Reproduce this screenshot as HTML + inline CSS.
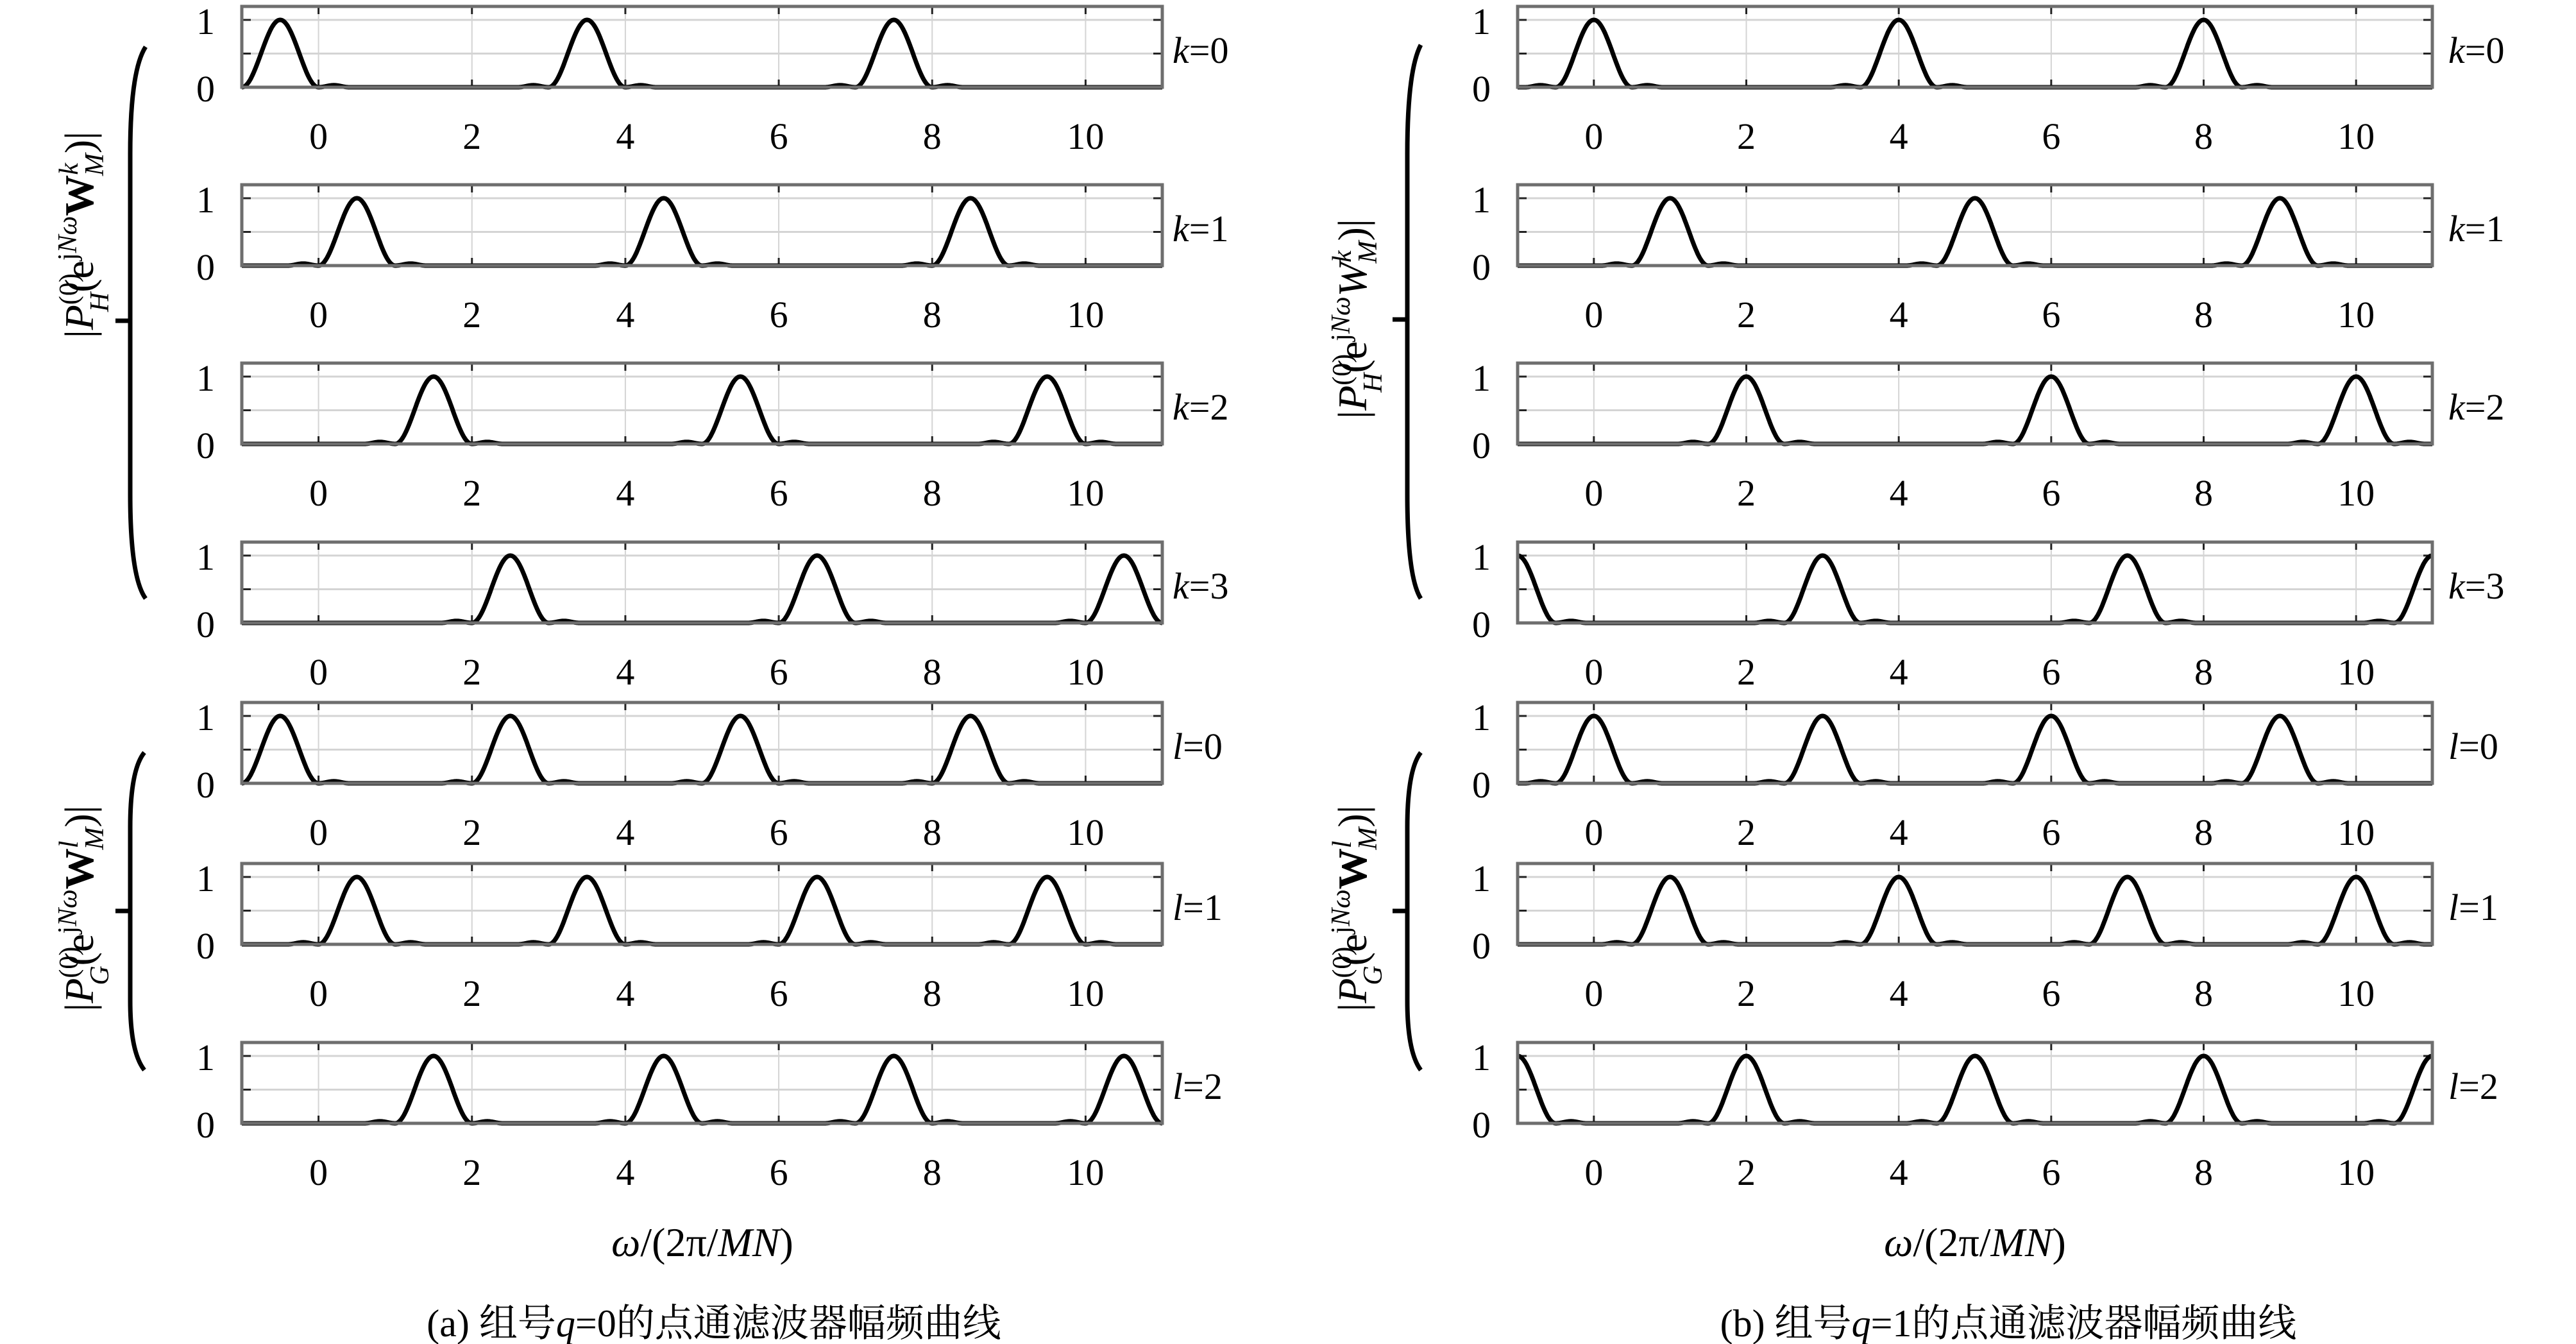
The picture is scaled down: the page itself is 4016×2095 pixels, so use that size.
<!DOCTYPE html>
<html><head><meta charset="utf-8">
<style>
html,body{margin:0;padding:0;background:#fff;}
svg{display:block;}
text{font-family:"Liberation Serif","Noto Serif CJK SC",serif;fill:#000;}
</style></head>
<body>
<svg id="fig" xmlns="http://www.w3.org/2000/svg" width="4016" height="2095" viewBox="0 0 4016 2095">
<rect width="4016" height="2095" fill="#fff"/>
<g id="root"></g>
<g fill="none" stroke="#000" stroke-width="7">
<path d="M227 73 Q203 110 203 240 L203 770 Q203 900 227 933"/><path d="M180 500 L205 500"/></g>
<g fill="none" stroke="#000" stroke-width="7">
<path d="M225 1173 Q203 1200 203 1290 L203 1560 Q203 1640 225 1668"/><path d="M180 1420 L205 1420"/></g>
<g fill="none" stroke="#000" stroke-width="7">
<path d="M2215 70 Q2194 110 2194 240 L2194 770 Q2194 900 2215 933"/><path d="M2171 498 L2196 498"/></g>
<g fill="none" stroke="#000" stroke-width="7">
<path d="M2215 1173 Q2194 1200 2194 1290 L2194 1560 Q2194 1640 2215 1668"/><path d="M2171 1420 L2196 1420"/></g>
<text transform="translate(145 366) rotate(-90)" font-size="64" text-anchor="middle">|<tspan font-style="italic">P</tspan><tspan font-size="42" dy="-24">(0)</tspan><tspan font-size="42" font-style="italic" dx="-60" dy="48">H</tspan><tspan dy="-24">(e</tspan><tspan font-size="42" dy="-26">j<tspan font-style="italic">Nω</tspan></tspan><tspan dy="26" font-weight="bold">W</tspan><tspan font-size="42" dy="-24" font-style="italic">k</tspan><tspan font-size="42" font-style="italic" dx="-20" dy="40">M</tspan><tspan dy="-16">)|</tspan></text>
<text transform="translate(145 1416) rotate(-90)" font-size="64" text-anchor="middle">|<tspan font-style="italic">P</tspan><tspan font-size="42" dy="-24">(0)</tspan><tspan font-size="42" font-style="italic" dx="-60" dy="48">G</tspan><tspan dy="-24">(e</tspan><tspan font-size="42" dy="-26">j<tspan font-style="italic">Nω</tspan></tspan><tspan dy="26" font-weight="bold">W</tspan><tspan font-size="42" dy="-24" font-style="italic">l</tspan><tspan font-size="42" font-style="italic" dx="-14" dy="40">M</tspan><tspan dy="-16">)|</tspan></text>
<text transform="translate(2130 497) rotate(-90)" font-size="64" text-anchor="middle">|<tspan font-style="italic">P</tspan><tspan font-size="42" dy="-24">(0)</tspan><tspan font-size="42" font-style="italic" dx="-60" dy="48">H</tspan><tspan dy="-24">(e</tspan><tspan font-size="42" dy="-26">j<tspan font-style="italic">Nω</tspan></tspan><tspan dy="26" font-style="italic">W</tspan><tspan font-size="42" dy="-24" font-style="italic">k</tspan><tspan font-size="42" font-style="italic" dx="-20" dy="40">M</tspan><tspan dy="-16">)|</tspan></text>
<text transform="translate(2130 1416) rotate(-90)" font-size="64" text-anchor="middle">|<tspan font-style="italic">P</tspan><tspan font-size="42" dy="-24">(0)</tspan><tspan font-size="42" font-style="italic" dx="-60" dy="48">G</tspan><tspan dy="-24">(e</tspan><tspan font-size="42" dy="-26">j<tspan font-style="italic">Nω</tspan></tspan><tspan dy="26" font-weight="bold">W</tspan><tspan font-size="42" dy="-24" font-style="italic">l</tspan><tspan font-size="42" font-style="italic" dx="-14" dy="40">M</tspan><tspan dy="-16">)|</tspan></text>
<text x="1095" y="1958" font-size="64" text-anchor="middle"><tspan font-style="italic">ω</tspan>/(2π/<tspan font-style="italic">MN</tspan>)</text>
<text x="3079" y="1958" font-size="64" text-anchor="middle"><tspan font-style="italic">ω</tspan>/(2π/<tspan font-style="italic">MN</tspan>)</text>
<text x="1113" y="2083" font-size="60" text-anchor="middle">(a) 组号<tspan font-style="italic">q</tspan>=0的点通滤波器幅频曲线</text>
<text x="3131" y="2083" font-size="60" text-anchor="middle">(b) 组号<tspan font-style="italic">q</tspan>=1的点通滤波器幅频曲线</text>
</svg>
<script>
// ---- data ----
const xTicks = [0, 2, 4, 6, 8, 10];
const yTicks = [0, 1];
const xMin = -1, xMax = 11, yMax = 1.2;
const rowLabelsA = ["k=0","k=1","k=2","k=3","l=0","l=1","l=2"];
const peaksA_k0 = [-0.5, 3.5, 7.5];
const peaksA_k1 = [0.5, 4.5, 8.5];
const peaksA_k2 = [1.5, 5.5, 9.5];
const peaksA_k3 = [2.5, 6.5, 10.5];
const peaksA_l0 = [-0.5, 2.5, 5.5, 8.5];
const peaksA_l1 = [0.5, 3.5, 6.5, 9.5];
const peaksA_l2 = [1.5, 4.5, 7.5, 10.5];
const peaksB_k0 = [0, 4, 8];
const peaksB_k1 = [1, 5, 9];
const peaksB_k2 = [2, 6, 10];
const peaksB_k3 = [-1, 3, 7, 11];
const peaksB_l0 = [0, 3, 6, 9];
const peaksB_l1 = [1, 4, 7, 10];
const peaksB_l2 = [-1, 2, 5, 8, 11];
const peakHeight = 1.0;
const sidelobe = 0.03;

const NS = "http://www.w3.org/2000/svg";
const root = document.getElementById("root");
function el(tag, attrs, parent) {
  const e = document.createElementNS(NS, tag);
  for (const k in attrs) e.setAttribute(k, attrs[k]);
  (parent || root).appendChild(e);
  return e;
}
const rowTops = [10, 288, 566, 845, 1095, 1346, 1625];
const rowH = 126;
const panels = [
  {x0: 377, x1: 1812, label: "a", peaks: [peaksA_k0,peaksA_k1,peaksA_k2,peaksA_k3,peaksA_l0,peaksA_l1,peaksA_l2], lblX: 1828},
  {x0: 2366, x1: 3792, label: "b", peaks: [peaksB_k0,peaksB_k1,peaksB_k2,peaksB_k3,peaksB_l0,peaksB_l1,peaksB_l2], lblX: 3817}
];
function shape(d) {
  const a = Math.abs(d);
  if (a < 0.5) { const c = Math.cos(Math.PI * d); return peakHeight * c * c; }
  if (a < 0.9) { const s = Math.sin(Math.PI * (a - 0.5) / 0.4); return sidelobe * s * s; }
  return 0;
}
panels.forEach((p) => {
  const xs = v => p.x0 + (v - xMin) / (xMax - xMin) * (p.x1 - p.x0);
  p.peaks.forEach((pk, ri) => {
    const top = rowTops[ri], bot = top + rowH;
    const ys = v => bot - v / yMax * rowH;
    const g = el("g", {});
    
    
    xTicks.forEach(t => {
      const l = el("line", {x1: xs(t), x2: xs(t), y1: top, y2: bot, stroke: "#d4d4d4", "stroke-width": 2}, g);
      
      
    });
    [0.5, 1].forEach(t => {
      const l = el("line", {x1: p.x0, x2: p.x1, y1: ys(t), y2: ys(t), stroke: "#d4d4d4", "stroke-width": 3}, g);
      
      
    });
    xTicks.forEach(t => {
      el("line", {x1: xs(t), x2: xs(t), y1: top, y2: top + 12, stroke: "#222", "stroke-width": 3}, g);
      el("line", {x1: xs(t), x2: xs(t), y1: bot, y2: bot - 12, stroke: "#222", "stroke-width": 3}, g);
      const tl = el("text", {x: xs(t), y: bot + 96, "font-size": 58, "text-anchor": "middle"}, g);
      tl.textContent = t;
      
      
    });
    [0, 0.5, 1].forEach(t => {
      el("line", {x1: p.x0, x2: p.x0 + 14, y1: ys(t), y2: ys(t), stroke: "#222", "stroke-width": 3}, g);
      el("line", {x1: p.x1, x2: p.x1 - 14, y1: ys(t), y2: ys(t), stroke: "#222", "stroke-width": 3}, g);
    });
    yTicks.forEach(t => {
      const tl = el("text", {x: p.x0 - 42, y: ys(t) + 22, "font-size": 58, "text-anchor": "end"}, g);
      tl.textContent = t;
      
      
    });
    let d = "";
    for (let i = 0; i <= 1200; i++) {
      const x = xMin + (xMax - xMin) * i / 1200;
      let y = 0;
      pk.forEach(c => { y += shape(x - c); });
      d += (i ? "L" : "M") + xs(x).toFixed(1) + " " + ys(y).toFixed(1);
    }
    const cv = el("path", {d: d, fill: "none", stroke: "#000", "stroke-width": 7, "stroke-linejoin": "round"}, g);
    
    
    const fr = el("rect", {x: p.x0, y: top, width: p.x1 - p.x0, height: rowH, fill: "none", stroke: "#6e6e6e", "stroke-width": 5}, g);
    
    
    const lab = rowLabelsA[ri].split("=");
    const rl = el("text", {x: p.lblX, y: top + 88, "font-size": 58}, g);
    rl.innerHTML = '<tspan font-style="italic">' + lab[0] + '</tspan>=' + lab[1];
    
    
  });
});
</script>
</body></html>
